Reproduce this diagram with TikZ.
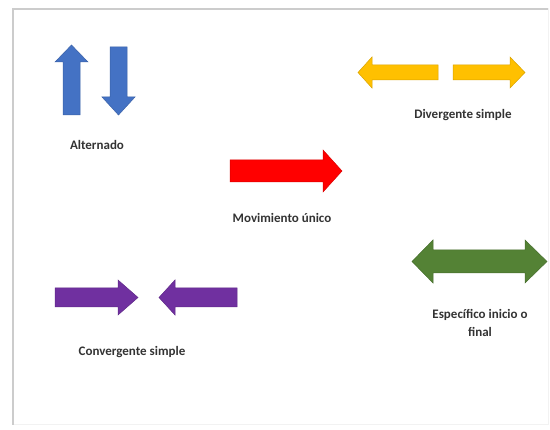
\documentclass[tikz,border=0pt]{standalone}
\usepackage{fontspec}
\setmainfont{Carlito}

\definecolor{azul}{HTML}{4472C4}
\definecolor{rojo}{HTML}{FF0000}
\definecolor{amarillo}{HTML}{FFC000}
\definecolor{verde}{HTML}{548235}
\definecolor{morado}{HTML}{7030A0}

\tikzset{
  bloque/.style={fill=#1, draw=#1!85!black, line width=0.5pt, line join=miter},
  etiqueta/.style={font=\fontsize{13}{14}\selectfont\bfseries, text=black!80, align=center, inner sep=1pt}
}

\begin{document}
\begin{tikzpicture}[x=1pt, y=-1pt]
\useasboundingbox (0,0) rectangle (550,430);
% marco
\draw[gray!10, line width=1pt] (13,9) rectangle (548,425);
\draw[gray!40, line width=1.5pt] (13,425) -- (13,9) -- (548,9);

% alternado
\filldraw[bloque=azul] (63,115) -- (63,62) -- (55,62) -- (71.5,45) -- (88,62) -- (80,62) -- (80,115) -- cycle;
\filldraw[bloque=azul] (110,47) -- (110,97) -- (102,97) -- (118.5,115) -- (135,97) -- (127,97) -- (127,47) -- cycle;
\node[etiqueta] (alt) at (97,145) {Alternado};

% divergente simple
\filldraw[bloque=amarillo] (438,65) -- (372,65) -- (372,57) -- (358,72.5) -- (372,88) -- (372,80) -- (438,80) -- cycle;
\filldraw[bloque=amarillo] (453,65) -- (510,65) -- (510,57) -- (525,72.5) -- (510,88) -- (510,80) -- (453,80) -- cycle;
\node[etiqueta] (div) at (463,115) {Divergente simple};

% movimiento unico
\filldraw[bloque=rojo] (230,160) -- (323,160) -- (323,150) -- (342,171) -- (323,192) -- (323,182) -- (230,182) -- cycle;
\node[etiqueta] (mov) at (282,218) {Movimiento único};

% especifico inicio o final
\filldraw[bloque=verde] (412,261.5) -- (433,240) -- (433,250) -- (525,250) -- (525,240) -- (547,261.5) -- (525,283) -- (525,273) -- (433,273) -- (433,283) -- cycle;
\node[etiqueta] (esp) at (480,323) {Específico inicio o\\[4pt]final};

% convergente simple
\filldraw[bloque=morado] (55,288) -- (118,288) -- (118,280) -- (138,297.5) -- (118,315) -- (118,307) -- (55,307) -- cycle;
\filldraw[bloque=morado] (237,288) -- (175,288) -- (175,280) -- (159,297.5) -- (175,315) -- (175,307) -- (237,307) -- cycle;
\node[etiqueta] (conv) at (132,352) {Convergente simple};
\end{tikzpicture}
\end{document}
